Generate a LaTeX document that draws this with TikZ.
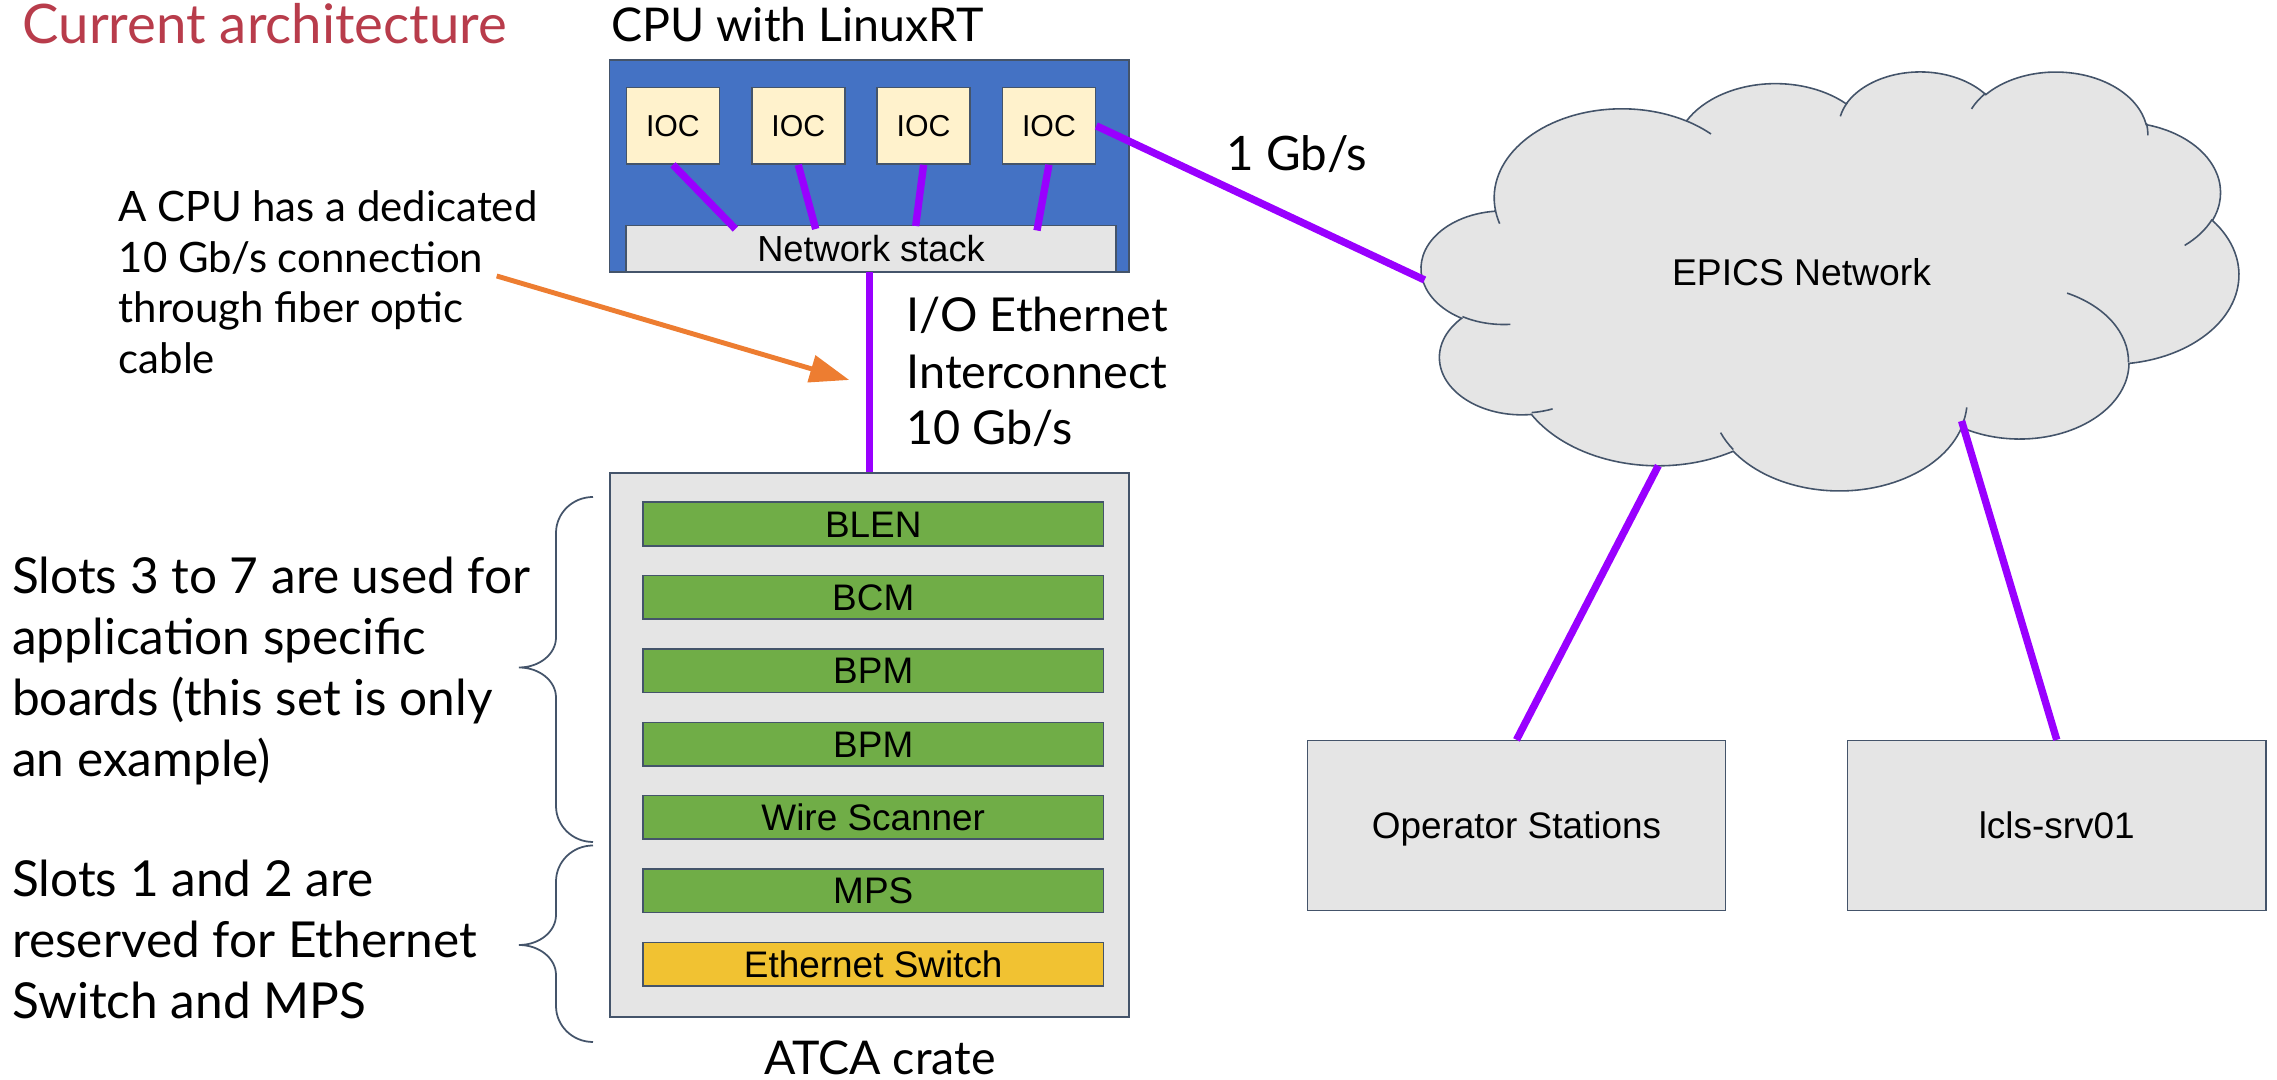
\documentclass[tikz,border=0pt]{standalone}
\usepackage{fontspec}
\setmainfont{Lato}
\newfontfamily\arialfont{Liberation Sans}
\usetikzlibrary{arrows.meta,calc}
\definecolor{titlered}{HTML}{B83C4B}
\definecolor{cpublue}{HTML}{4472C4}
\definecolor{iocfill}{HTML}{FFF2CC}
\definecolor{lgray}{HTML}{E5E5E5}
\definecolor{bargreen}{HTML}{70AD47}
\definecolor{baryellow}{HTML}{F1C232}
\definecolor{edge}{HTML}{44546A}
\definecolor{linkpurple}{HTML}{9900FF}
\definecolor{arroworange}{HTML}{ED7D31}
\begin{document}
\begin{tikzpicture}[x=0.01cm,y=-0.01cm,
  box/.style={draw=edge, line width=0.45pt, rectangle, inner sep=0pt,
    font=\arialfont\fontsize{10.5}{12}\selectfont, text height=7.5pt, text depth=0pt},
  iocbox/.style={box, fill=iocfill, minimum width=0.93cm, minimum height=0.763cm,
    font=\arialfont\fontsize{8.6}{10}\selectfont, text height=6.2pt},
  bar/.style={box, fill=bargreen, minimum width=4.605cm, minimum height=0.435cm},
  hostbox/.style={box, fill=lgray, minimum width=4.18cm, minimum height=1.698cm},
  link/.style={draw=linkpurple, line width=2.1pt},
  label/.style={inner sep=0pt, anchor=base west},
  bracelook/.style={draw=edge, line width=0.5pt},
]
\useasboundingbox (0,0) rectangle (2277,1080);

% titles and notes (multi-line nodes: base = last line)
\node[label, text=titlered, font=\fontsize{15.5}{18}\selectfont] (title) at (22,43.3) {Current architecture};
\node[label, font=\fontsize{13.23}{16}\selectfont] (cputitle) at (610.5,41.7) {CPU with LinuxRT};
\node[label, align=left, font=\fontsize{11.92}{14.37}\selectfont] (note) at (118,373.3)
  {A CPU has a dedicated\\10 Gb/s connection\\through fiber optic\\cable};
\node[label, align=left, font=\fontsize{13.3}{16.13}\selectfont] (ioeth) at (906,445)
  {I/O Ethernet\\Interconnect\\10 Gb/s};
\node[label, font=\fontsize{13.5}{16}\selectfont] (gbs) at (1226,170.7) {1 Gb/s};
\node[label, align=left, font=\fontsize{14.1}{17.35}\selectfont] (slotsA) at (11.5,777)
  {Slots 3 to 7 are used for\\application specific\\boards (this set is only\\an example)};
\node[label, align=left, font=\fontsize{14.1}{17.35}\selectfont] (slotsB) at (11.5,1019)
  {Slots 1 and 2 are\\reserved for Ethernet\\Switch and MPS};
\node[inner sep=0pt, anchor=base, font=\fontsize{13.23}{16}\selectfont] (atca) at (880,1075) {ATCA crate};

% CPU
\node[box, fill=cpublue, minimum width=5.195cm, minimum height=2.12cm] (cpu) at (869.25,166) {};
\node[iocbox] (ioc1) at (672.9,125.85) {IOC};
\node[iocbox] (ioc2) at (798.25,125.85) {IOC};
\node[iocbox] (ioc3) at (923.6,125.85) {IOC};
\node[iocbox] (ioc4) at (1048.95,125.85) {IOC};
\node[box, fill=lgray, minimum width=4.893cm, minimum height=0.46cm,
  font=\arialfont\fontsize{10.3}{12}\selectfont, text height=7.4pt] (ns) at (871.05,248.7) {Network stack};

% ATCA crate
\node[box, fill=lgray, minimum width=5.186cm, minimum height=5.437cm] (crate) at (869.3,744.85) {};
\node[bar] (b1) at (873.25,524.05) {BLEN};
\node[bar] (b2) at (873.25,597.4) {BCM};
\node[bar] (b3) at (873.25,670.75) {BPM};
\node[bar] (b4) at (873.25,744.1) {BPM};
\node[bar] (b5) at (873.25,817.45) {Wire Scanner};
\node[bar] (b6) at (873.25,890.8) {MPS};
\node[bar, fill=baryellow] (b7) at (873.25,964.15) {Ethernet Switch};

% braces
\draw[bracelook] (593,497) arc[start angle=-90, end angle=-180, x radius=37, y radius=36]
  -- (556,637.5) arc[start angle=0, end angle=90, x radius=37, y radius=30]
  arc[start angle=-90, end angle=0, x radius=37, y radius=30]
  -- (556,806) arc[start angle=180, end angle=90, x radius=37, y radius=36];
\draw[bracelook] (593,845.5) arc[start angle=-90, end angle=-180, x radius=37, y radius=36]
  -- (556,915) arc[start angle=0, end angle=90, x radius=37, y radius=30]
  arc[start angle=-90, end angle=0, x radius=37, y radius=30]
  -- (556,1006) arc[start angle=180, end angle=90, x radius=37, y radius=36];

% hosts
\node[hostbox] (ops) at (1516.5,825.6) {Operator Stations};
\node[hostbox] (srv) at (2056.75,825.6) {lcls-srv01};

% cloud
\begin{scope}[shift={(1421.6,70.6)}, xscale=1.8912, yscale=0.9694]
\path[draw=edge, fill=lgray, line width=0.45pt] (39.00,143.70)
  arc[start angle=-187.746, end angle=-59.64, x radius=67.53, y radius=91.90]
  arc[start angle=-152.02, end angle=-45.47, x radius=53.33, y radius=72.67]
  arc[start angle=-153.49, end angle=-37.32, x radius=43.65, y radius=59.45]
  arc[start angle=-139.70, end angle=-10.21, x radius=48.57, y radius=65.95]
  arc[start angle=-74.78, end angle=23.21, x radius=53.33, y radius=72.73]
  arc[start angle=-37.55, end angle=81.85, x radius=67.75, y radius=92.20]
  arc[start angle=0.46, end angle=121.98, x radius=57.85, y radius=78.67]
  arc[start angle=16.84, end angle=146.25, x radius=67.52, y radius=92.15]
  arc[start angle=59.01, end angle=150.17, x radius=77.20, y radius=105.43]
  arc[start angle=-276.70, end angle=-136.91, x radius=43.60, y radius=59.18]
  arc[start angle=-239.64, end angle=-95.89, x radius=43.45, y radius=59.45]
  -- cycle;
\draw[edge, line width=0.45pt]
  (46.93,261.77) arc[start angle=85.54, end angle=120.36, x radius=43.45, y radius=59.45]
  (69.28,348.99) arc[start angle=68.23, end angle=83.30, x radius=43.60, y radius=59.18]
  (164.78,390.90) arc[start angle=146.25, end angle=158.48, x radius=67.52, y radius=92.15]
  (288.27,347.51) arc[start angle=4.738, end angle=16.84, x radius=67.52, y radius=92.15]
  (341.29,229.54) arc[start angle=-64.01, end angle=0.46, x radius=57.85, y radius=78.67]
  (417.98,153.54) arc[start angle=23.21, end angle=49.67, x radius=53.33, y radius=72.73]
  (383.24,54.26) arc[start angle=-10.21, end angle=0.82, x radius=48.57, y radius=65.95]
  (290.78,39.52) arc[start angle=-156.28, end angle=-139.70, x radius=48.57, y radius=65.95]
  (221.41,47.20) arc[start angle=-167.73, end angle=-153.49, x radius=43.65, y radius=59.45]
  (140.00,51.92) arc[start angle=-59.64, end angle=-45.75, x radius=67.53, y radius=91.90]
  (41.27,157.89) arc[start angle=163.19, end angle=172.25, x radius=67.53, y radius=91.90];
\end{scope}
\node[font=\arialfont\fontsize{10.6}{12}\selectfont, text height=7.6pt, text depth=0pt, inner sep=0pt] (epics) at (1801.5,271.7) {EPICS Network};

% connector end points
\coordinate (ns1) at (735.4,229);
\coordinate (ns2) at (815.7,229);
\coordinate (ns3) at (915.7,226);
\coordinate (ns4) at (1037,230.5);
\coordinate (cloudW) at (1424.6,280);
\coordinate (cloudA) at (1658.3,465.7);
\coordinate (cloudB) at (1961.6,421);
\coordinate (arrS) at (496.7,276);
\coordinate (arrE) at (849.3,380);

% connectors
\draw[link] (ioc1.south) -- (ns1);
\draw[link] (ioc2.south) -- (ns2);
\draw[link] (ioc3.south) -- (ns3);
\draw[link] (ioc4.south) -- (ns4);
\draw[link] (ioc4.east) -- (cloudW);
\draw[link] (crate.north |- ns.south) -- (crate.north);
\draw[link] (cloudA) -- (ops.north);
\draw[link] (cloudB) -- (srv.north);
\draw[draw=arroworange, line width=1.4pt, -{Triangle[length=0.395cm, width=0.271cm]}] (arrS) -- (arrE);
\end{tikzpicture}
\end{document}
